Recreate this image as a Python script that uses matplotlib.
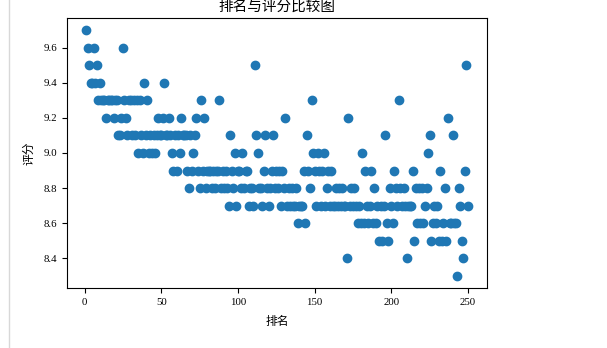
import matplotlib
matplotlib.use('Agg')
from matplotlib import pyplot as plt
from matplotlib.lines import Line2D

plt.rcParams['font.family'] = ['Liberation Serif', 'Noto Sans CJK SC']
plt.rcParams['axes.unicode_minus'] = False

# 排名 1..250 and the rating of each film
ranks = list(range(1, 251))
ratings = [
    9.7, 9.6, 9.5, 9.4, 9.4, 9.6, 9.4, 9.5, 9.3, 9.4,
    9.3, 9.3, 9.3, 9.2, 9.3, 9.3, 9.3, 9.3, 9.2, 9.3,
    9.3, 9.1, 9.1, 9.2, 9.6, 9.3, 9.2, 9.1, 9.3, 9.3,
    9.1, 9.3, 9.1, 9.3, 9.0, 9.3, 9.1, 9.0, 9.4, 9.1,
    9.3, 9.0, 9.1, 9.0, 9.1, 9.0, 9.1, 9.2, 9.1, 9.1,
    9.2, 9.4, 9.1, 9.1, 9.2, 9.1, 9.0, 8.9, 9.1, 8.9,
    9.1, 9.0, 9.2, 9.1, 9.1, 9.1, 8.9, 8.8, 9.1, 8.9,
    9.0, 9.1, 9.2, 8.9, 8.8, 9.3, 8.9, 9.2, 8.8, 8.9,
    8.9, 8.9, 8.8, 8.9, 8.8, 8.9, 8.9, 9.3, 8.8, 8.9,
    8.8, 8.9, 8.8, 8.7, 9.1, 8.9, 8.8, 9.0, 8.7, 8.9,
    8.9, 8.8, 9.0, 8.8, 8.9, 8.9, 8.7, 8.8, 8.8, 8.7,
    9.5, 9.1, 9.0, 8.8, 8.8, 8.7, 8.9, 9.1, 8.8, 8.7,
    8.8, 8.9, 9.1, 8.8, 8.9, 8.8, 8.9, 8.7, 8.9, 8.8,
    9.2, 8.7, 8.8, 8.7, 8.8, 8.7, 8.7, 8.8, 8.6, 8.7,
    8.7, 8.7, 8.9, 8.6, 9.1, 8.9, 8.8, 9.3, 9.0, 8.9,
    8.7, 9.0, 8.9, 8.7, 8.9, 9.0, 8.7, 8.8, 8.9, 8.7,
    8.9, 8.7, 8.7, 8.8, 8.7, 8.8, 8.7, 8.8, 8.7, 8.7,
    8.4, 9.2, 8.7, 8.8, 8.7, 8.8, 8.7, 8.6, 8.7, 8.6,
    9.0, 8.6, 8.9, 8.7, 8.6, 8.7, 8.9, 8.6, 8.8, 8.6,
    8.7, 8.5, 8.7, 8.5, 8.7, 9.1, 8.6, 8.5, 8.8, 8.7,
    8.6, 8.9, 8.8, 8.7, 9.3, 8.8, 8.7, 8.8, 8.7, 8.4,
    8.7, 8.7, 8.7, 8.9, 8.5, 8.8, 8.6, 8.8, 8.6, 8.8,
    8.6, 8.7, 8.8, 9.0, 9.1, 8.5, 8.6, 8.7, 8.6, 8.7,
    8.5, 8.9, 8.5, 8.6, 8.8, 8.5, 9.2, 8.6, 8.6, 9.1,
    8.6, 8.6, 8.3, 8.8, 8.7, 8.5, 8.4, 8.9, 9.5, 8.7,
]

W, H = 607, 348
fig = plt.figure(figsize=(W / 100, H / 100), dpi=100)
ax = fig.add_axes([67 / W, 60 / H, 420 / W, 270 / H])

ax.scatter(ranks, ratings, s=36, color='#1f77b4')
ax.set_title('排名与评分比较图', fontsize=10.5, pad=5.5)
ax.set_xlabel('排名', fontsize=8.5, labelpad=7)
ax.set_ylabel('评分', fontsize=8.5, labelpad=6)
ax.tick_params(labelsize=7.8)

# notebook cell border on the left
fig.add_artist(Line2D([8.5 / W, 8.5 / W], [0, 1], color='#d8d8d8', lw=1))

fig.savefig('out.png', dpi=100)
